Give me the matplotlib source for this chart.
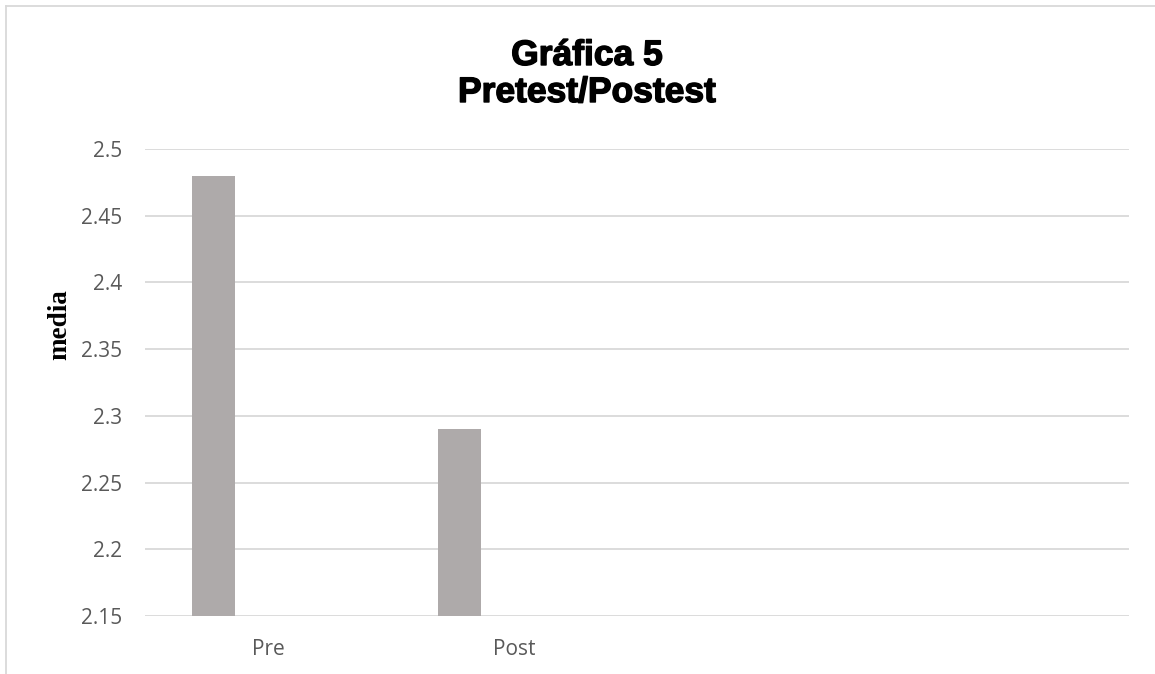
import matplotlib
matplotlib.use("Agg")
import matplotlib.pyplot as plt
from matplotlib.lines import Line2D
import matplotlib.patheffects as pe
import numpy as np

categories = ["Pre", "Post", "", ""]
values = [2.48, 2.29, np.nan, np.nan]
yticks = [2.15, 2.2, 2.25, 2.3, 2.35, 2.4, 2.45, 2.5]
ytick_labels = ["2.15", "2.2", "2.25", "2.3", "2.35", "2.4", "2.45", "2.5"]

W, H = 1155, 674
fig = plt.figure(figsize=(W / 100, H / 100), dpi=100)
ax = fig.add_axes([145 / W, 58 / H, (1129 - 145) / W, (616 - 149) / H])

x = np.arange(len(categories))
bar_offset = -0.222
bar_width = 0.175
ax.bar(x + bar_offset, values, width=bar_width, color="#aeaaaa", zorder=3)

ax.set_xlim(-0.5, len(categories) - 0.5)
ax.set_ylim(2.15, 2.5)
ax.set_yticks(yticks)
ax.set_yticklabels(ytick_labels, fontsize=15, color="#595959", family="Open Sans")
ax.set_xticks(x)
ax.set_xticklabels(categories, fontsize=15, color="#595959", family="Open Sans")
ax.tick_params(axis="both", length=0)
ax.tick_params(axis="y", pad=16.5)
ax.tick_params(axis="x", pad=16.5)

for t in yticks:
    ax.axhline(t, color="#d9d9d9", lw=1.3, zorder=1)
for s in ax.spines.values():
    s.set_visible(False)

fig.text(60 / W, 1 - 325 / H, "media", rotation=90, ha="center", va="center",
         family="Liberation Serif", fontweight="bold", fontsize=19.5)

stroke = [pe.withStroke(linewidth=1.0, foreground="black")]
fig.text(587 / W, 1 - 65 / H, "Gráfica 5", ha="center", va="baseline",
         family="Liberation Sans", fontweight="bold", fontsize=25.5, path_effects=stroke)
fig.text(587 / W, 1 - 102 / H, "Pretest/Postest", ha="center", va="baseline",
         family="Liberation Sans", fontweight="bold", fontsize=25.5, path_effects=stroke)

fig.add_artist(Line2D([6 / W, 6 / W], [0, 1 - 6 / H], transform=fig.transFigure, color="#d9d9d9", lw=1.3))
fig.add_artist(Line2D([6 / W, 1], [1 - 6 / H, 1 - 6 / H], transform=fig.transFigure, color="#d9d9d9", lw=1.3))

fig.savefig("out.png", dpi=100, facecolor="white")
